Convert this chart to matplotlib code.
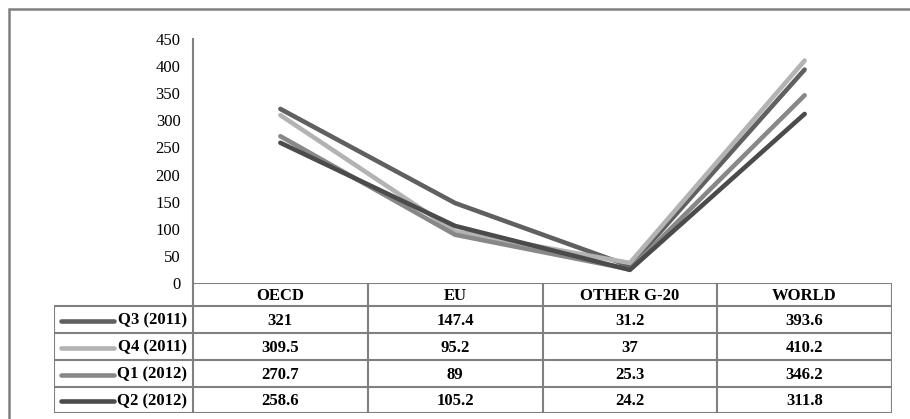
import numpy as np
import matplotlib.pyplot as plt
from matplotlib.patches import Rectangle

plt.rcParams['font.family'] = ['Liberation Serif', 'DejaVu Serif']

# datos
categories = ["OECD", "EU", "OTHER G-20", "WORLD"]
series_names = ["Q3 (2011)", "Q4 (2011)", "Q1 (2012)", "Q2 (2012)"]
q3_2011 = [321, 147.4, 31.2, 393.6]
q4_2011 = [309.5, 95.2, 37, 410.2]
q1_2012 = [270.7, 89, 25.3, 346.2]
q2_2012 = [258.6, 105.2, 24.2, 311.8]
values = [q3_2011, q4_2011, q1_2012, q2_2012]
labels_txt = [["321", "147.4", "31.2", "393.6"],
              ["309.5", "95.2", "37", "410.2"],
              ["270.7", "89", "25.3", "346.2"],
              ["258.6", "105.2", "24.2", "311.8"]]
yticks = np.arange(0, 451, 50)

colors = ["#606060", "#b3b3b3", "#888888", "#4b4b4b"]
grid_c = "#808080"

W, H = 910, 419
fig = plt.figure(figsize=(W / 100, H / 100), dpi=100)

def fx(px):
    return px / W

def fy(py):
    return 1 - py / H

# marco exterior
fig.patches.append(Rectangle((fx(9), fy(425)), fx(910), fy(9) - fy(425),
                             transform=fig.transFigure, fill=False,
                             edgecolor=grid_c, lw=1.8))

# grafico de lineas
left, right, top, zero = 193, 892, 39, 283
ax = fig.add_axes([fx(left), fy(zero), fx(right - left), fy(top) - fy(zero)])
x = np.arange(len(categories)) + 0.5
for vals, c in zip(values, colors):
    ax.plot(x, vals, color=c, lw=3.3, solid_capstyle='round')
ax.set_xlim(0, 4)
ax.set_ylim(0, 450)
ax.set_yticks(yticks)
ax.set_xticks([])
for s in ["top", "right", "bottom"]:
    ax.spines[s].set_visible(False)
ax.spines["left"].set_color(grid_c)
ax.spines["left"].set_linewidth(1.5)
ax.tick_params(axis='y', length=0, pad=9, labelsize=12)

# tabla de datos
tleft, tbottom = 54, 413
colw = (right - left) / 4
tab = fig.add_axes([fx(tleft), fy(tbottom), fx(right - tleft), fy(zero) - fy(tbottom)])
x0 = -(left - tleft) / colw
tab.set_xlim(x0, 4)
row_edges = [0, 23, 50, 77, 104, 130]
tab.set_ylim(row_edges[-1], 0)
tab.axis('off')

lk = dict(color=grid_c, lw=1.5, solid_capstyle='butt')
# encabezado
tab.plot([0, 4], [0, 0], **lk)
for i in range(5):
    tab.plot([i, i], [0, row_edges[-1]], **lk)
for j in range(1, 6):
    tab.plot([x0, 4], [row_edges[j], row_edges[j]], **lk)
tab.plot([x0, x0], [row_edges[1], row_edges[-1]], **lk)

for i, cat in enumerate(categories):
    tab.text(i + 0.5, (row_edges[0] + row_edges[1]) / 2 + 1, cat, ha='center', va='center',
             fontsize=12, fontweight='bold')

for r, name in enumerate(series_names):
    yc = (row_edges[r + 1] + row_edges[r + 2]) / 2 + 1
    tab.plot([(61 - left) / colw, (114 - left) / colw], [yc, yc], color=colors[r],
             lw=3.3, solid_capstyle='round')
    tab.text((187 - left) / colw, yc, name, ha='right', va='center',
             fontsize=12, fontweight='bold')
    for i in range(4):
        tab.text(i + 0.5, yc, labels_txt[r][i], ha='center', va='center',
                 fontsize=12, fontweight='bold')

fig.savefig("out.png", dpi=100)
